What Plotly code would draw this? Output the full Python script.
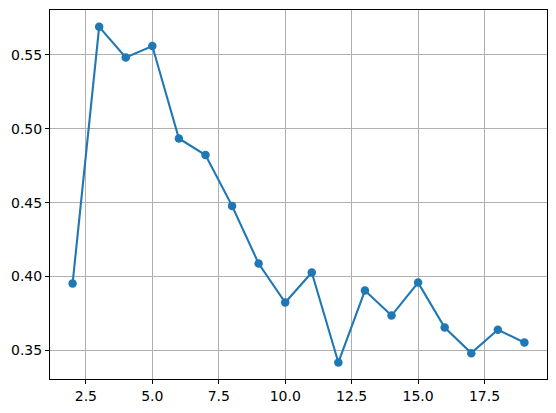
import plotly.graph_objects as go

# values
k_values = [2, 3, 4, 5, 6, 7, 8, 9, 10, 11, 12, 13, 14, 15, 16, 17, 18, 19]
scores = [0.3953, 0.5689, 0.5482, 0.5559, 0.4934, 0.4822, 0.4478, 0.4088, 0.3824,
          0.4027, 0.3419, 0.3905, 0.3736, 0.3959, 0.3655, 0.3482, 0.3640, 0.3554]

x_ticks = [2.5, 5.0, 7.5, 10.0, 12.5, 15.0, 17.5]
y_ticks = [0.35, 0.40, 0.45, 0.50, 0.55]

fig = go.Figure()
fig.add_trace(go.Scatter(
    x=k_values,
    y=scores,
    mode="lines+markers",
    line=dict(color="#1f77b4", width=2.1),
    marker=dict(color="#1f77b4", size=8.5),
    showlegend=False,
))

axis_style = dict(
    showline=True, mirror=True, linecolor="black", linewidth=1,
    ticks="outside", ticklen=4, tickwidth=1, tickcolor="black",
    showgrid=True, gridcolor="#b0b0b0", gridwidth=1.1,
    zeroline=False,
    tickfont=dict(family="DejaVu Sans", size=14, color="black"),
)

fig.update_xaxes(
    range=[1.15, 19.85], tickvals=x_ticks,
    ticktext=[f"{v:.1f}" for v in x_ticks], **axis_style
)
fig.update_yaxes(
    range=[0.3307, 0.5803], tickvals=y_ticks,
    ticktext=[f"{v:.2f}" for v in y_ticks], **axis_style
)

# the page body adds an 8px offset, margins account for it
fig.update_layout(
    width=556, height=413,
    margin=dict(l=42, r=17, t=2, b=42),
    paper_bgcolor="white", plot_bgcolor="white",
)

fig.write_html("out.html")
